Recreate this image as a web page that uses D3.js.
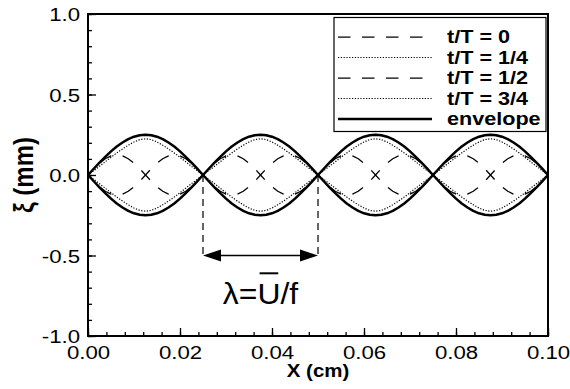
<!DOCTYPE html>
<html><head><meta charset="utf-8">
<script src="https://cdn.jsdelivr.net/npm/d3@7"></script>
<style>body{margin:0;background:#fff}</style>
</head><body>
<svg id="c" width="570" height="389"></svg>
<script>
// ---- data ----
const xStep = 0.00125;                 // sampling interval of the curves (cm)
const xTickValues = [0, 0.02, 0.04, 0.06, 0.08, 0.10];
const xTickLabels = ["0.00", "0.02", "0.04", "0.06", "0.08", "0.10"];
const yTickValues = [-1, -0.5, 0, 0.5, 1];
const yTickLabels = ["-1.0", "-0.5", "0.0", "0.5", "1.0"];
const seriesNames = ["t/T = 0", "t/T = 1/4", "t/T = 1/2", "t/T = 3/4", "envelope"];

const envelopeUpper = [0,0.039,0.077,0.113,0.147,0.177,0.202,0.223,0.238,0.247,0.25,0.247,0.238,0.223,0.202,0.177,0.147,0.113,0.077,0.039,
 0,0.039,0.077,0.113,0.147,0.177,0.202,0.223,0.238,0.247,0.25,0.247,0.238,0.223,0.202,0.177,0.147,0.113,0.077,0.039,
 0,0.039,0.077,0.113,0.147,0.177,0.202,0.223,0.238,0.247,0.25,0.247,0.238,0.223,0.202,0.177,0.147,0.113,0.077,0.039,
 0,0.039,0.077,0.113,0.147,0.177,0.202,0.223,0.238,0.247,0.25,0.247,0.238,0.223,0.202,0.177,0.147,0.113,0.077,0.039,0];
const envelopeLower = [0,-0.039,-0.077,-0.113,-0.147,-0.177,-0.202,-0.223,-0.238,-0.247,-0.25,-0.247,-0.238,-0.223,-0.202,-0.177,-0.147,-0.113,-0.077,-0.039,
 0,-0.039,-0.077,-0.113,-0.147,-0.177,-0.202,-0.223,-0.238,-0.247,-0.25,-0.247,-0.238,-0.223,-0.202,-0.177,-0.147,-0.113,-0.077,-0.039,
 0,-0.039,-0.077,-0.113,-0.147,-0.177,-0.202,-0.223,-0.238,-0.247,-0.25,-0.247,-0.238,-0.223,-0.202,-0.177,-0.147,-0.113,-0.077,-0.039,
 0,-0.039,-0.077,-0.113,-0.147,-0.177,-0.202,-0.223,-0.238,-0.247,-0.25,-0.247,-0.238,-0.223,-0.202,-0.177,-0.147,-0.113,-0.077,-0.039,0];
const t0 = [0,0.039,0.073,0.101,0.119,0.125,0.119,0.101,0.073,0.039,0,-0.039,-0.073,-0.101,-0.119,-0.125,-0.119,-0.101,-0.073,-0.039,
 0,0.039,0.073,0.101,0.119,0.125,0.119,0.101,0.073,0.039,0,-0.039,-0.073,-0.101,-0.119,-0.125,-0.119,-0.101,-0.073,-0.039,
 0,0.039,0.073,0.101,0.119,0.125,0.119,0.101,0.073,0.039,0,-0.039,-0.073,-0.101,-0.119,-0.125,-0.119,-0.101,-0.073,-0.039,
 0,0.039,0.073,0.101,0.119,0.125,0.119,0.101,0.073,0.039,0,-0.039,-0.073,-0.101,-0.119,-0.125,-0.119,-0.101,-0.073,-0.039,0];
const tQuarter = [0,0.027,0.054,0.082,0.11,0.137,0.162,0.185,0.205,0.22,0.225,0.22,0.205,0.185,0.162,0.137,0.11,0.082,0.054,0.027,
 0,0.027,0.054,0.082,0.11,0.137,0.162,0.185,0.205,0.22,0.225,0.22,0.205,0.185,0.162,0.137,0.11,0.082,0.054,0.027,
 0,0.027,0.054,0.082,0.11,0.137,0.162,0.185,0.205,0.22,0.225,0.22,0.205,0.185,0.162,0.137,0.11,0.082,0.054,0.027,
 0,0.027,0.054,0.082,0.11,0.137,0.162,0.185,0.205,0.22,0.225,0.22,0.205,0.185,0.162,0.137,0.11,0.082,0.054,0.027,0];
const tHalf = [0,-0.039,-0.073,-0.101,-0.119,-0.125,-0.119,-0.101,-0.073,-0.039,0,0.039,0.073,0.101,0.119,0.125,0.119,0.101,0.073,0.039,
 0,-0.039,-0.073,-0.101,-0.119,-0.125,-0.119,-0.101,-0.073,-0.039,0,0.039,0.073,0.101,0.119,0.125,0.119,0.101,0.073,0.039,
 0,-0.039,-0.073,-0.101,-0.119,-0.125,-0.119,-0.101,-0.073,-0.039,0,0.039,0.073,0.101,0.119,0.125,0.119,0.101,0.073,0.039,
 0,-0.039,-0.073,-0.101,-0.119,-0.125,-0.119,-0.101,-0.073,-0.039,0,0.039,0.073,0.101,0.119,0.125,0.119,0.101,0.073,0.039,0];
const tThreeQuarter = [0,-0.027,-0.054,-0.082,-0.11,-0.137,-0.162,-0.185,-0.205,-0.22,-0.225,-0.22,-0.205,-0.185,-0.162,-0.137,-0.11,-0.082,-0.054,-0.027,
 0,-0.027,-0.054,-0.082,-0.11,-0.137,-0.162,-0.185,-0.205,-0.22,-0.225,-0.22,-0.205,-0.185,-0.162,-0.137,-0.11,-0.082,-0.054,-0.027,
 0,-0.027,-0.054,-0.082,-0.11,-0.137,-0.162,-0.185,-0.205,-0.22,-0.225,-0.22,-0.205,-0.185,-0.162,-0.137,-0.11,-0.082,-0.054,-0.027,
 0,-0.027,-0.054,-0.082,-0.11,-0.137,-0.162,-0.185,-0.205,-0.22,-0.225,-0.22,-0.205,-0.185,-0.162,-0.137,-0.11,-0.082,-0.054,-0.027,0];
const lambdaStart = 0.025, lambdaEnd = 0.05;   // one wavelength, cm

// ---- layout ----
const svg = d3.select("#c");
const L = 88, R = 548, T = 14, B = 336;
const x = d3.scaleLinear().domain([0, 0.1]).range([L, R]);
const y = d3.scaleLinear().domain([-1, 1]).range([B, T]);
const FONT = "'Liberation Sans', Arial, Helvetica, sans-serif";
const SX = 1.17;

const line = d3.line().x((d, i) => x(i * xStep)).y(d => y(d));

const styles = {
  dash: {w: 1.25, da: "12.5,11.5", off: 6},
  dot:  {w: 1.2, da: "1.2,1.6", off: 0},
  solid:{w: 2.5, da: null, off: 0}
};
const series = [
  {name: seriesNames[0], data: [t0], st: styles.dash},
  {name: seriesNames[1], data: [tQuarter], st: styles.dot},
  {name: seriesNames[2], data: [tHalf], st: styles.dash},
  {name: seriesNames[3], data: [tThreeQuarter], st: styles.dot},
  {name: seriesNames[4], data: [envelopeUpper, envelopeLower], st: styles.solid}
];

const plot = svg.append("g");
plot.append("clipPath").attr("id", "clip").append("rect")
  .attr("x", L).attr("y", T).attr("width", R - L).attr("height", B - T);
const curves = plot.append("g").attr("clip-path", "url(#clip)");
series.forEach(s => {
  s.data.forEach(arr => {
    curves.append("path").attr("d", line(arr)).attr("fill", "none")
      .attr("stroke", "#000").attr("stroke-width", s.st.w)
      .attr("stroke-dasharray", s.st.da).attr("stroke-dashoffset", s.st.off)
      .attr("stroke-linejoin", "round");
  });
});

// ---- axes (ticks inside) ----
const xMinor = d3.range(0, 26).map(i => i * 0.004).filter(v => v <= 0.1 + 1e-9);
const yMinor = d3.range(-10, 11).map(i => i * 0.1);
function styleAxis(g) {
  g.select(".domain").remove();
  g.selectAll("line").attr("stroke", "#000").attr("stroke-width", 1.3);
}
svg.append("g").attr("transform", `translate(0,${B})`)
  .call(d3.axisBottom(x).tickValues(xMinor).tickSize(-4).tickFormat(""))
  .call(styleAxis);
svg.append("g").attr("transform", `translate(${L},0)`)
  .call(d3.axisLeft(y).tickValues(yMinor).tickSize(-4).tickFormat(""))
  .call(styleAxis);
const xAx = svg.append("g").attr("transform", `translate(0,${B})`)
  .call(d3.axisBottom(x).tickValues(xTickValues).tickSize(-8)
    .tickFormat((d, i) => xTickLabels[i]))
  .call(styleAxis);
xAx.selectAll("text").attr("y", 0).attr("dy", null)
  .attr("transform", `translate(0,22.5) scale(${SX},1)`)
  .attr("font-family", FONT).attr("font-size", 19).attr("fill", "#000");
const yAx = svg.append("g").attr("transform", `translate(${L},0)`)
  .call(d3.axisLeft(y).tickValues(yTickValues).tickSize(-8)
    .tickFormat((d, i) => yTickLabels[i]))
  .call(styleAxis);
yAx.selectAll("text").attr("x", 0).attr("dy", null)
  .attr("transform", `translate(-8,6.8) scale(${SX},1)`)
  .attr("font-family", FONT).attr("font-size", 19).attr("fill", "#000");

// frame
svg.append("rect").attr("x", L).attr("y", T).attr("width", R - L).attr("height", B - T)
  .attr("fill", "none").attr("stroke", "#000").attr("stroke-width", 2);

// axis titles
svg.append("text").attr("transform", `translate(${(L + R) / 2},376.5) scale(${SX},1)`)
  .attr("text-anchor", "middle").attr("font-family", FONT).attr("font-weight", "bold")
  .attr("font-size", 17.5).text("X (cm)");
svg.append("text").attr("transform", `translate(33,${(T + B) / 2}) scale(${SX},1) rotate(-90)`)
  .attr("text-anchor", "middle").attr("font-family", FONT).attr("font-weight", "bold")
  .attr("font-size", 24).text("ξ (mm)");

// ---- wavelength annotation ----
const ann = svg.append("g").attr("stroke", "#000");
[lambdaStart, lambdaEnd].forEach(v => {
  ann.append("line").attr("x1", x(v)).attr("x2", x(v)).attr("y1", y(0)).attr("y2", y(-0.51))
    .attr("stroke-width", 1.2).attr("stroke-dasharray", "7,5");
});
const ay = y(-0.5);
ann.append("line").attr("x1", x(lambdaStart) + 10).attr("x2", x(lambdaEnd) - 10)
  .attr("y1", ay).attr("y2", ay).attr("stroke-width", 1.5);
ann.append("path").attr("stroke", "none").attr("fill", "#000")
  .attr("d", `M${x(lambdaStart)},${ay}L${x(lambdaStart) + 18},${ay - 6}L${x(lambdaStart) + 18},${ay + 6}Z`);
ann.append("path").attr("stroke", "none").attr("fill", "#000")
  .attr("d", `M${x(lambdaEnd)},${ay}L${x(lambdaEnd) - 18},${ay - 6}L${x(lambdaEnd) - 18},${ay + 6}Z`);
const ctm = `translate(${x((lambdaStart + lambdaEnd) / 2)},${y(-0.8)}) scale(1.1,1)`;
const lt = svg.append("text").attr("transform", ctm)
  .attr("text-anchor", "middle").attr("font-family", FONT).attr("font-size", 29).text("λ=U/f");
const tn = lt.node();
const u0 = tn.getStartPositionOfChar(2), u1 = tn.getEndPositionOfChar(2);
svg.append("line").attr("transform", ctm)
  .attr("x1", u0.x + 2).attr("x2", u1.x - 2).attr("y1", -30.5).attr("y2", -30.5)
  .attr("stroke", "#000").attr("stroke-width", 2);

// ---- legend ----
const lg = svg.append("g");
lg.append("rect").attr("x", 334).attr("y", 17.5).attr("width", 212).attr("height", 114)
  .attr("fill", "#fff").attr("stroke", "#000").attr("stroke-width", 1.2);
series.forEach((s, i) => {
  const by = 43 + i * 20.5;
  lg.append("line").attr("x1", 338).attr("x2", 432).attr("y1", by - 6).attr("y2", by - 6)
    .attr("stroke", "#000").attr("stroke-width", s.st.w).attr("stroke-dasharray", s.st.da);
  lg.append("text").attr("transform", `translate(447,${by}) scale(1.2,1)`)
    .attr("font-family", FONT).attr("font-weight", "bold").attr("font-size", 18).text(s.name);
});
</script>
</body></html>
